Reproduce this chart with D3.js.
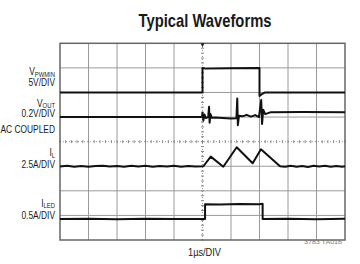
<!DOCTYPE html>
<html>
<head>
<meta charset="utf-8">
<script src="https://cdn.jsdelivr.net/npm/d3@7"></script>
<style>
  body { margin: 0; background: #fff; }
  text { font-family: "Liberation Sans", Arial, sans-serif; fill: #1a1a1a; }
</style>
</head>
<body>
<div id="chart"></div>
<script>
// time in divisions (1us/div), level in divisions from the bottom of the screen
var vpwmT = [0, 5.0, 5.0, 5.1, 6.0, 7.0, 7.0, 7.08, 7.2, 10];
var vpwmV = [6.0, 6.0, 7.0, 6.97, 6.99, 7.0, 5.86, 5.93, 6.0, 6.0];

var voutT = [0, 4.98, 5.0, 5.03, 5.07, 5.12, 5.2, 5.23, 5.25, 5.28, 5.33, 5.45, 5.7, 6.0, 6.19, 6.22, 6.24, 6.28, 6.4, 6.55, 6.7, 6.85, 6.98, 7.06, 7.09, 7.13, 7.2, 7.4, 8.5, 10];
var voutV = [5.0, 5.0, 5.18, 4.86, 5.1, 4.96, 5.0, 5.42, 4.77, 5.12, 4.97, 4.98, 4.96, 4.94, 4.95, 5.76, 4.67, 5.05, 5.03, 5.09, 5.02, 5.08, 5.0, 5.69, 4.72, 5.3, 5.12, 5.2, 5.21, 5.2];

var ilT = [0, 0.25, 0.5, 0.75, 1, 1.25, 1.5, 1.75, 2, 2.25, 2.5, 2.75, 3, 3.25, 3.5, 3.75, 4, 4.25, 4.5, 4.75, 5.03, 5.29, 5.73, 6.2, 6.76, 7.05, 7.72, 7.9, 8.1, 8.3, 8.5, 8.7, 8.9, 9.1, 9.3, 9.5, 9.7, 9.9, 10];
var ilV = [2.99, 3.02, 2.98, 3.01, 2.98, 3.01, 3.02, 2.99, 3.01, 2.98, 3.02, 2.99, 3.02, 2.98, 3.01, 2.99, 3.02, 2.98, 3.01, 2.99, 3.0, 3.39, 2.98, 3.77, 3.12, 3.69, 3.0, 2.98, 3.02, 2.98, 3.01, 2.97, 3.02, 2.99, 3.02, 2.98, 3.01, 2.98, 3.0];

var iledT = [0, 1, 2, 3, 4, 5.09, 5.09, 5.6, 6.3, 7.0, 7.11, 7.11, 8, 9, 10];
var iledV = [0.85, 0.86, 0.84, 0.86, 0.85, 0.85, 1.45, 1.44, 1.46, 1.45, 1.47, 0.85, 0.86, 0.84, 0.86];

var gridX = [1, 2, 3, 4, 6, 7, 8, 9];
var gridY = [1, 2, 3, 5, 6, 7];

var traceNames = [["V", "PWMIN"], ["V", "OUT"], ["I", "L"], ["I", "LED"]];
var traceScales = [["5V/DIV"], ["0.2V/DIV", "AC COUPLED"], ["2.5A/DIV"], ["0.5A/DIV"]];

var w = 360, h = 264;
var svg = d3.select("#chart").append("svg").attr("width", w).attr("height", h);

var x = d3.scaleLinear().domain([0, 10]).range([60, 345]);
var y = d3.scaleLinear().domain([0, 8]).range([240, 43.3]);

svg.append("text").attr("x", 205).attr("y", 26.5).attr("text-anchor", "middle")
  .attr("font-size", 19).attr("font-weight", "bold")
  .attr("textLength", 133).attr("lengthAdjust", "spacingAndGlyphs")
  .text("Typical Waveforms");

var grid = svg.append("g");
grid.selectAll("line.gx").data(gridX).enter().append("line").attr("class", "gx")
  .attr("x1", function(d) { return x(d); }).attr("x2", function(d) { return x(d); })
  .attr("y1", y(0)).attr("y2", y(8))
  .attr("style", "stroke:#9a9a9a; stroke-width:1");
grid.selectAll("line.gy").data(gridY).enter().append("line").attr("class", "gy")
  .attr("y1", function(d) { return y(d); }).attr("y2", function(d) { return y(d); })
  .attr("x1", x(0)).attr("x2", x(10))
  .attr("style", "stroke:#9a9a9a; stroke-width:1");

// center axes: dotted with minor ticks
grid.append("line").attr("x1", x(5)).attr("x2", x(5)).attr("y1", y(0)).attr("y2", y(8))
  .attr("style", "stroke:#999; stroke-width:1; stroke-dasharray:1,2");
grid.append("line").attr("x1", x(0)).attr("x2", x(10)).attr("y1", y(4)).attr("y2", y(4))
  .attr("style", "stroke:#999; stroke-width:1; stroke-dasharray:1,2");
grid.selectAll("line.tx").data(d3.range(0, 10.01, 0.2)).enter().append("line").attr("class", "tx")
  .attr("x1", function(d) { return x(d); }).attr("x2", function(d) { return x(d); })
  .attr("y1", y(4) - 1.5).attr("y2", y(4) + 1.5)
  .attr("style", "stroke:#888; stroke-width:1");
grid.selectAll("line.ty").data(d3.range(0, 8.01, 0.2)).enter().append("line").attr("class", "ty")
  .attr("y1", function(d) { return y(d); }).attr("y2", function(d) { return y(d); })
  .attr("x1", x(5) - 1.5).attr("x2", x(5) + 1.5)
  .attr("style", "stroke:#888; stroke-width:1");

svg.append("rect").attr("x", x(0)).attr("y", y(8)).attr("width", x(10) - x(0)).attr("height", y(0) - y(8))
  .attr("style", "fill:none; stroke:#666; stroke-width:1.5");

// trigger marker
svg.append("path").attr("d", "M" + (x(5) - 2) + "," + y(8) + "L" + (x(5) + 2) + "," + y(8) + "L" + x(5) + "," + (y(8) + 4) + "Z")
  .attr("style", "fill:#222");

var line = d3.line().x(function(d) { return x(d[0]); }).y(function(d) { return y(d[1]); });
var traces = [
  d3.zip(vpwmT, vpwmV),
  d3.zip(voutT, voutV),
  d3.zip(ilT, ilV),
  d3.zip(iledT, iledV)
];
svg.selectAll("path.trace").data(traces).enter().append("path").attr("class", "trace")
  .attr("d", line)
  .attr("style", "fill:none; stroke:#111; stroke-width:2; stroke-linejoin:round");

// label baselines: name, then each scale line
var nameY = [75.3, 106.6, 156, 206.7];
var scaleY = [[86.2], [117.5, 133.3], [168.3], [219.3]];

traceNames.forEach(function(n, k) {
  var g = svg.append("g").attr("transform", "translate(55,0) scale(0.84,1)")
    .attr("text-anchor", "end");
  var t = g.append("text").attr("x", 0).attr("y", nameY[k]).attr("font-size", 10);
  t.append("tspan").text(n[0]);
  t.append("tspan").attr("dy", 1.8).attr("font-size", 7).text(n[1]);
  traceScales[k].forEach(function(s, i) {
    g.append("text").attr("x", 0).attr("y", scaleY[k][i]).attr("font-size", 10).text(s);
  });
});

svg.append("text").attr("x", 188).attr("y", 256).attr("font-size", 11)
  .attr("textLength", 33).attr("lengthAdjust", "spacingAndGlyphs").text("1\u00b5s/DIV");
svg.append("text").attr("x", 304).attr("y", 244).attr("font-size", 5.5)
  .attr("textLength", 38).attr("lengthAdjust", "spacingAndGlyphs")
  .attr("style", "fill:#777").text("3783 TA01b");
</script>
</body>
</html>
